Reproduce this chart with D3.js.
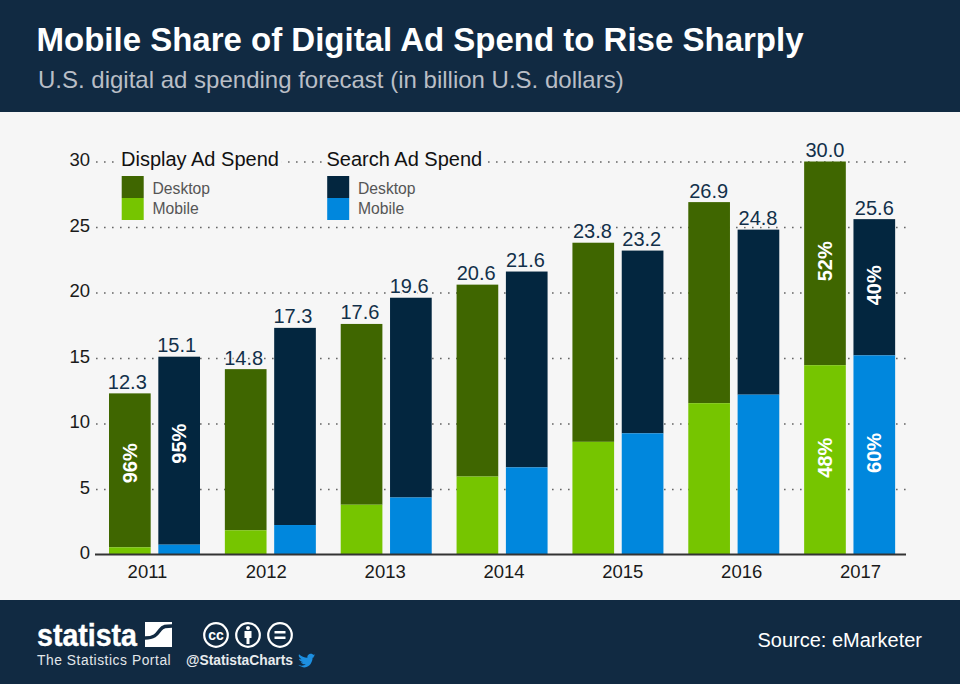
<!DOCTYPE html>
<html>
<head>
<meta charset="utf-8">
<script src="https://cdnjs.cloudflare.com/ajax/libs/d3/7.8.5/d3.min.js"></script>
<style>
  html, body { margin: 0; padding: 0; background: #f6f6f6; }
  svg { display: block; font-family: "Liberation Sans", Arial, sans-serif; }
  .grid .domain { display: none; }
  .grid .tick line { stroke: #666; stroke-width: 1.6; stroke-dasharray: 1.6 6.4; }
  .grid .tick text { font-size: 18.5px; fill: #1a1a1a; }
  .xaxis .domain { stroke: #333; stroke-width: 2; }
  .xaxis .tick line { display: none; }
  .xaxis .tick text { font-size: 18.5px; fill: #1a1a1a; }
</style>
</head>
<body>
<svg id="chart" width="960" height="684"></svg>
<script>
const years = [2011, 2012, 2013, 2014, 2015, 2016, 2017];
const displayTotal = [12.3, 14.15, 17.6, 20.6, 23.8, 26.9, 30.0];
const displayMobile = [0.55, 1.85, 3.8, 5.95, 8.6, 11.55, 14.45];
const displayLabels = ["12.3", "14.8", "17.6", "20.6", "23.8", "26.9", "30.0"];
const searchTotal = [15.1, 17.3, 19.6, 21.6, 23.2, 24.8, 25.6];
const searchMobile = [0.75, 2.25, 4.35, 6.65, 9.25, 12.2, 15.2];
const searchLabels = ["15.1", "17.3", "19.6", "21.6", "23.2", "24.8", "25.6"];
const yTicks = [0, 5, 10, 15, 20, 25, 30];
const shareYears = [2011, 2011, 2017, 2017, 2017, 2017];
const shareSeries = ["display", "search", "display", "search", "display", "search"];
const shareParts = ["desktop", "desktop", "desktop", "desktop", "mobile", "mobile"];
const shareLabels = ["96%", "95%", "52%", "40%", "48%", "60%"];

const NAVY = "#112a42", DARKGREEN = "#3f6600", GREEN = "#76c500", DARKBLUE = "#03263f", BLUE = "#0087dd";

const svg = d3.select("#chart");

// header and footer bands
svg.append("rect").attr("width", 960).attr("height", 684).attr("fill", "#f6f6f6");
svg.append("rect").attr("width", 960).attr("height", 112).attr("fill", NAVY);
svg.append("rect").attr("y", 600).attr("width", 960).attr("height", 84).attr("fill", NAVY);

svg.append("text").attr("x", 36.5).attr("y", 51)
  .attr("font-size", 33).attr("font-weight", "bold").attr("fill", "#fff")
  .text("Mobile Share of Digital Ad Spend to Rise Sharply");
svg.append("text").attr("x", 38).attr("y", 87.5)
  .attr("font-size", 24).attr("fill", "#b9bec6")
  .text("U.S. digital ad spending forecast (in billion U.S. dollars)");

// scales
let y = d3.scaleLinear().domain([0, 30]).range([554.5, 161.5]);
let x = d3.scaleBand().domain(years).range([96.5, 907.5]);
let barX = d3.scaleBand().domain(["display", "search"]).range([12.5, 103.5]).paddingInner(0.155);
let labelX = d3.scalePoint().domain(years).range([147, 860]);
let valueShift = d3.scaleLinear().domain([2011, 2017]).range([-2.5, 0]);

// gridlines
let grid = svg.append("g").attr("class", "grid").attr("transform", "translate(96,0)")
  .call(d3.axisLeft(y).tickValues(yTicks).tickSize(-810).tickPadding(6).tickFormat(d3.format("d")));
grid.selectAll(".tick").filter(d => d === 0).select("line").remove();
grid.selectAll(".tick text").attr("dy", "0.22em");

// bars
const series = [
  {key: "display", total: displayTotal, mobile: displayMobile, labels: displayLabels, top: DARKGREEN, bottom: GREEN},
  {key: "search", total: searchTotal, mobile: searchMobile, labels: searchLabels, top: DARKBLUE, bottom: BLUE}
];
series.forEach(s => {
  let g = svg.append("g");
  years.forEach((yr, i) => {
    let bx = x(yr) + barX(s.key);
    g.append("rect").attr("x", bx).attr("width", barX.bandwidth())
      .attr("y", y(s.total[i])).attr("height", y(s.mobile[i]) - y(s.total[i])).attr("fill", s.top);
    g.append("rect").attr("x", bx).attr("width", barX.bandwidth())
      .attr("y", y(s.mobile[i])).attr("height", y(0) - y(s.mobile[i])).attr("fill", s.bottom);
    // halo hides the dotted gridline behind the value, as in the original
    g.append("text").attr("x", bx + barX.bandwidth() / 2 + valueShift(yr)).attr("y", y(s.total[i]) - 4.5)
      .attr("text-anchor", "middle").attr("font-size", 20).attr("fill", "#12304a")
      .attr("stroke", "#f6f6f6").attr("stroke-width", 3).attr("paint-order", "stroke")
      .text(s.labels[i]);
  });
});

// share labels inside bars
shareLabels.forEach((label, i) => {
  let s = series.find(d => d.key === shareSeries[i]);
  let idx = years.indexOf(shareYears[i]);
  let lo = shareParts[i] === "mobile" ? 0 : s.mobile[idx];
  let hi = shareParts[i] === "mobile" ? s.mobile[idx] : s.total[idx];
  let cx = x(shareYears[i]) + barX(s.key) + barX.bandwidth() / 2;
  let cy = y((lo + hi) / 2) + (shareYears[i] === 2011 ? -7 : -2);
  svg.append("text").attr("transform", "translate(" + cx + "," + cy + ") rotate(-90)")
    .attr("text-anchor", "middle").attr("dy", "0.35em")
    .attr("font-size", 20).attr("font-weight", "bold").attr("fill", "#fff")
    .text(label);
});

// x axis
svg.append("g").attr("class", "xaxis").attr("transform", "translate(0,554.5)")
  .call(d3.axisBottom(labelX).tickSize(0).tickPadding(10).tickFormat(d3.format("d")))
  .select(".domain").attr("d", "M95,0H906");

// legend
const legendTitles = ["Display Ad Spend", "Search Ad Spend"];
const legendItems = ["Desktop", "Mobile"];
const legendX = [121, 326.5];
const legendColors = [[DARKGREEN, GREEN], [DARKBLUE, BLUE]];
legendTitles.forEach((t, i) => {
  let bg = svg.append("rect").attr("fill", "#f6f6f6");
  let title = svg.append("text").attr("x", legendX[i]).attr("y", 166)
    .attr("font-size", 20).attr("fill", "#111").text(t);
  let box = title.node().getBBox();
  bg.attr("x", box.x - 3).attr("y", box.y).attr("width", box.width + 6).attr("height", box.height);
  legendItems.forEach((item, j) => {
    svg.append("rect").attr("x", legendX[i] + 0.7).attr("y", 176 + j * 22)
      .attr("width", 22).attr("height", 22).attr("fill", legendColors[i][j]);
    svg.append("text").attr("x", legendX[i] + 31.5).attr("y", 194 + j * 20)
      .attr("font-size", 15.7).attr("fill", "#555").text(item);
  });
});

// footer: logo
svg.append("text").attr("x", 37).attr("y", 646)
  .attr("font-family", "'Liberation Sans Narrow','Liberation Sans'").attr("font-weight", "bold")
  .attr("font-size", 32).attr("fill", "#fff").attr("stroke", "#fff").attr("stroke-width", 0.4)
  .attr("textLength", 100).attr("lengthAdjust", "spacingAndGlyphs").text("statista");
svg.append("rect").attr("x", 145).attr("y", 622).attr("width", 27).attr("height", 25).attr("fill", "#fff");
svg.append("path").attr("fill", "none").attr("stroke", NAVY).attr("stroke-width", 3.5)
  .attr("d", "M145,638 C155,638 157,634 160,630 C163,626 166,626 172,626");
svg.append("text").attr("x", 37).attr("y", 665)
  .attr("font-size", 13.8).attr("fill", "#e3e7ea").attr("letter-spacing", "0.55").text("The Statistics Portal");

// footer: licence icons
const iconX = [216, 248, 280];
iconX.forEach(cx => {
  svg.append("circle").attr("cx", cx).attr("cy", 635).attr("r", 11.8)
    .attr("fill", "none").attr("stroke", "#fff").attr("stroke-width", 2.2);
});
svg.append("text").attr("x", 216).attr("y", 640).attr("text-anchor", "middle")
  .attr("font-size", 14).attr("font-weight", "bold").attr("fill", "#fff").text("cc");
svg.append("circle").attr("cx", 248).attr("cy", 628).attr("r", 2).attr("fill", "#fff");
svg.append("path").attr("fill", "#fff").attr("d", "M244.5,631h7v7h-2v6h-3v-6h-2z");
svg.append("path").attr("fill", "#fff").attr("d", "M274.5,631h11v2.5h-11z M274.5,636.5h11v2.5h-11z");

svg.append("text").attr("x", 186).attr("y", 664.5)
  .attr("font-size", 13.8).attr("font-weight", "bold").attr("fill", "#e8ebee").text("@StatistaCharts");
// twitter bird
svg.append("path").attr("fill", "#1d8fe0").attr("transform", "translate(44,192) scale(0.85,0.72)")
  .attr("d", "M298,656 C302,659 306,658 308,656 C304,656 303,654 302,653 C303,653 304,653 305,653 C301,652 300,650 300,648 C301,649 302,649 303,649 C300,647 299,644 300,642 C303,645 306,647 310,647 C309,643 313,640 316,642 C317,643 318,643 319,642 C319,643 318,644 317,645 C318,645 319,645 316,647 C316,654 310,667 298,656 Z");

svg.append("text").attr("x", 922).attr("y", 647).attr("text-anchor", "end")
  .attr("font-size", 20).attr("fill", "#fff").text("Source: eMarketer");
</script>
</body>
</html>
